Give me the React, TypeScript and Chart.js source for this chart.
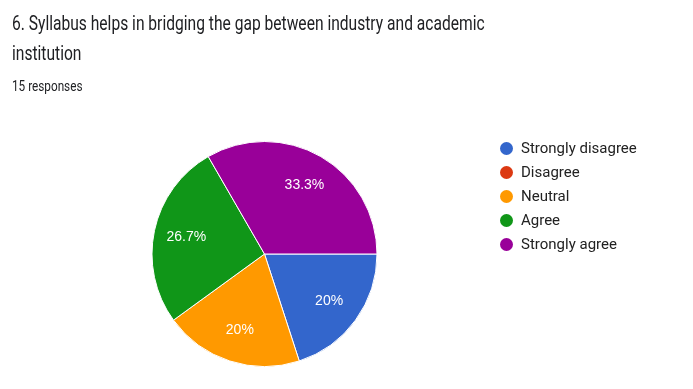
import React, { useEffect, useRef } from "react";
import { Chart, registerables } from "chart.js";

Chart.register(...registerables);

const titleLine1 = "6. Syllabus helps in bridging the gap between industry and academic";
const titleLine2 = "institution";
const subtitle = "15 responses";
const categories = ["Strongly disagree", "Disagree", "Neutral", "Agree", "Strongly agree"];
const counts = [3, 0, 3, 4, 5];
const colors = ["#3366CC", "#DC3912", "#FF9900", "#109618", "#990099"];

const labelPlugin = {
  id: "sliceLabels",
  afterDatasetsDraw(chart: any) {
    const ctx = chart.ctx;
    const meta = chart.getDatasetMeta(0);
    const data = chart.data.datasets[0].data as number[];
    const total = data.reduce((a, b) => a + b, 0);
    ctx.save();
    ctx.fillStyle = "#ffffff";
    ctx.font = '14px "Liberation Sans", Arial, sans-serif';
    ctx.textAlign = "center";
    ctx.textBaseline = "middle";
    meta.data.forEach((arc: any, i: number) => {
      const v = data[i];
      if (!v) return;
      const { x, y, startAngle, endAngle, outerRadius } = arc.getProps(
        ["x", "y", "startAngle", "endAngle", "outerRadius"],
        true
      );
      const mid = (startAngle + endAngle) / 2;
      const r = outerRadius * 0.71;
      const pct = (v / total) * 100;
      const txt = (Math.round(pct * 10) / 10).toString() + "%";
      ctx.fillText(txt, x + Math.cos(mid) * r, y + Math.sin(mid) * r);
    });
    ctx.restore();
  },
};

export default function App() {
  const ref = useRef<HTMLCanvasElement | null>(null);
  useEffect(() => {
    if (!ref.current) return;
    const chart = new Chart(ref.current, {
      type: "pie",
      data: {
        labels: categories,
        datasets: [
          {
            data: counts,
            backgroundColor: colors,
            borderColor: "#ffffff",
            borderWidth: 1,
          },
        ],
      },
      options: {
        animation: false,
        responsive: false,
        rotation: 90,
        layout: { padding: { left: 151, right: 315, top: 141, bottom: 22 } },
        plugins: {
          legend: { display: false },
          tooltip: { enabled: false },
        },
      },
      plugins: [labelPlugin],
    });
    return () => chart.destroy();
  }, []);

  return (
    <div style={{ position: "relative", width: 693, height: 389, margin: -8, background: "#fff", overflow: "hidden" }}>
      <canvas ref={ref} width={693} height={389} style={{ position: "absolute", left: 0, top: 0 }} />
      <div
        style={{
          position: "absolute",
          left: 12,
          top: 9,
          whiteSpace: "nowrap",
          fontFamily: "Roboto, sans-serif",
          fontSize: 19.5,
          lineHeight: "30px",
          color: "#202124",
          transform: "scaleX(0.8)",
          transformOrigin: "0 0",
        }}
      >
        <div>{titleLine1}</div>
        <div>{titleLine2}</div>
      </div>
      <div
        style={{
          position: "absolute",
          left: 12,
          top: 78,
          whiteSpace: "nowrap",
          fontFamily: "Roboto, sans-serif",
          fontSize: 14,
          color: "#202124",
          transform: "scaleX(0.84)",
          transformOrigin: "0 0",
        }}
      >
        {subtitle}
      </div>
      <div style={{ position: "absolute", left: 500, top: 136 }}>
        {categories.map((c, i) => (
          <div
            key={c}
            style={{
              display: "flex",
              alignItems: "center",
              height: 24,
              fontFamily: "Roboto, sans-serif",
              fontSize: 15,
              color: "#222222",
            }}
          >
            <span
              style={{
                display: "inline-block",
                width: 13,
                height: 13,
                borderRadius: "50%",
                background: colors[i],
                marginRight: 8,
              }}
            />
            {c}
          </div>
        ))}
      </div>
    </div>
  );
}
